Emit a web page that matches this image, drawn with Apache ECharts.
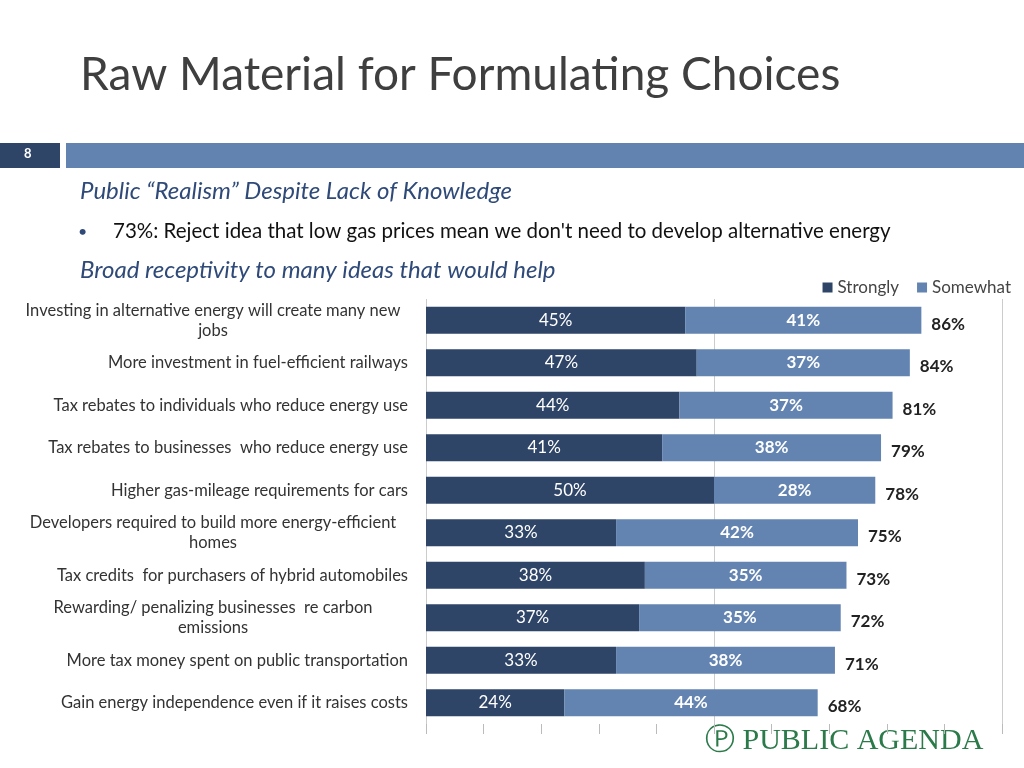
<!DOCTYPE html>
<html><head><meta charset="utf-8">
<script src="https://cdn.jsdelivr.net/npm/echarts@6/dist/echarts.min.js"></script>
<style>html,body{margin:0;background:#fff}#c{width:1024px;height:768px}</style>
</head><body><div id="c"></div>
<script>
// rows top to bottom
const categories = [
  'Investing in alternative energy will create many new\njobs',
  'More investment in fuel-efficient railways',
  'Tax rebates to individuals who reduce energy use',
  'Tax rebates to businesses  who reduce energy use',
  'Higher gas-mileage requirements for cars',
  'Developers required to build more energy-efficient\nhomes',
  'Tax credits  for purchasers of hybrid automobiles',
  'Rewarding/ penalizing businesses  re carbon\nemissions',
  'More tax money spent on public transportation',
  'Gain energy independence even if it raises costs'
];
const strongly = [45, 47, 44, 41, 50, 33, 38, 37, 33, 24];
const somewhat = [41, 37, 37, 38, 28, 42, 35, 35, 38, 44];
const totals = [86, 84, 81, 79, 78, 75, 73, 72, 71, 68];

const chart = echarts.init(document.getElementById('c'));
const font = 'Lato, "Open Sans", sans-serif';
chart.setOption({
  animation: false,
  textStyle: {fontFamily: font},
  graphic: [
    {type: 'text', left: 80, top: 52, style: {text: 'Raw Material for Formulating Choices', font: '46px ' + font, fill: '#3f3f3f'}},
    {type: 'rect', shape: {x: 0, y: 143, width: 60, height: 25}, style: {fill: '#2f4568'}},
    {type: 'text', left: 24, top: 147, style: {text: '8', font: 'bold 13px ' + font, fill: '#fff'}},
    {type: 'rect', shape: {x: 66, y: 143, width: 958, height: 25}, style: {fill: '#6283b0'}},
    {type: 'text', left: 80, top: 179, style: {text: 'Public \u201cRealism\u201d Despite Lack of Knowledge', font: 'italic 24px ' + font, fill: '#2f4a78'}},
    {type: 'text', left: 78, top: 224, style: {text: '\u2022', font: '16px ' + font, fill: '#2f4a78'}},
    {type: 'text', left: 113, top: 221, style: {text: "73%: Reject idea that low gas prices mean we don't need to develop alternative energy", font: '20.5px ' + font, fill: '#111'}},
    {type: 'text', left: 80, top: 258, style: {text: 'Broad receptivity to many ideas that would help', font: 'italic 24px ' + font, fill: '#2f4a78'}},
    {type: 'text', left: 705, top: 726, style: {text: '\u24c5 PUBLIC AGENDA', font: '30px "Liberation Serif", serif', fill: '#2b7a4a'}}
  ],
  legend: {
    data: ['Strongly', 'Somewhat'], top: 274, right: 8, itemWidth: 10, itemHeight: 10, itemGap: 18,
    textStyle: {fontSize: 17, color: '#444', fontFamily: font}, icon: 'rect'
  },
  grid: {left: 426, right: 22, top: 299, bottom: 44},
  xAxis: [{
    type: 'value', min: 0, max: 100, interval: 10,
    axisLabel: {show: false},
    splitLine: {show: false},
    axisLine: {show: false},
    axisTick: {show: true, length: 10, lineStyle: {color: '#bbb'}}
  }, {
    type: 'value', min: 0, max: 100, interval: 50, position: 'bottom',
    axisLabel: {show: false}, axisLine: {show: false}, axisTick: {show: false},
    splitLine: {show: true, lineStyle: {color: '#ccc'}}
  }],
  yAxis: {
    type: 'category', inverse: true, data: categories,
    axisLine: {show: false}, axisTick: {show: false},
    axisLabel: {fontSize: 16.5, color: '#333', margin: 18, lineHeight: 20, align: 'right',
      formatter: v => v.indexOf('\n') < 0 ? v : v.split('\n').map(s => '{c|' + s + '}').join('\n'),
      rich: {c: {width: 390, align: 'center', fontSize: 16.5, color: '#333', lineHeight: 20}}}
  },
  series: [
    {name: 'Strongly', type: 'bar', stack: 's', data: strongly, barWidth: 27, z: 3,
     itemStyle: {color: '#2f4568'},
     label: {show: true, position: 'inside', formatter: '{c}%', color: '#fff', fontSize: 17}},
    {name: 'Somewhat', type: 'bar', stack: 's', data: somewhat, barWidth: 27, z: 3,
     itemStyle: {color: '#6384b1'},
     label: {show: true, position: 'inside', formatter: '{c}%', color: '#fff', fontSize: 17, fontWeight: 'bold'}},
    {name: 'Total', type: 'bar', stack: 's', data: totals.map(() => 0), barWidth: 27, z: 3,
     label: {show: true, position: 'right', distance: 10, offset: [0, 4], color: '#222', fontSize: 17, fontWeight: 'bold',
       formatter: p => totals[p.dataIndex] + '%'}}
  ]
});
</script></body></html>
